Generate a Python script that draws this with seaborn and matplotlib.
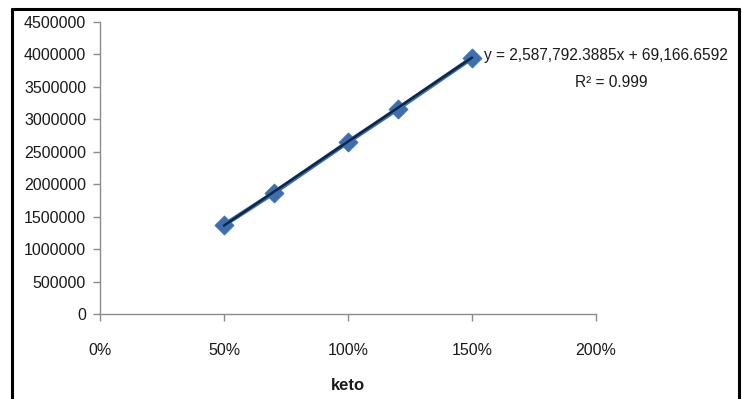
import numpy as np
import pandas as pd
import matplotlib
matplotlib.use("Agg")
import matplotlib.pyplot as plt
from matplotlib.ticker import FuncFormatter
from matplotlib.lines import Line2D
import seaborn as sns

# Calibration points: concentration (fraction) vs. peak area
keto = [0.5, 0.7, 1.0, 1.2, 1.5]
area = [1371000, 1864000, 2650000, 3159000, 3945000]

# Linear trendline as reported
slope = 2587792.3885
intercept = 69166.6592
r_squared = 0.999

x_ticks = [0, 0.5, 1.0, 1.5, 2.0]
y_ticks = list(range(0, 4500001, 500000))

sns.set_theme(style="white")
plt.rcParams["font.family"] = ["Liberation Sans Narrow", "Liberation Sans", "DejaVu Sans"]

fig = plt.figure(figsize=(7.43, 3.99), dpi=100)
ax = fig.add_axes([0.1346, 0.213, 0.6676, 0.732])

df = pd.DataFrame({"keto": keto, "area": area})
fit_x = np.array([keto[0], keto[-1]])
fit_df = pd.DataFrame({"keto": fit_x, "area": slope * fit_x + intercept})

sns.lineplot(data=df, x="keto", y="area", ax=ax, color="#3b6fb0", linewidth=3.2, zorder=2)
sns.scatterplot(data=df, x="keto", y="area", ax=ax, marker="D", s=95,
                color="#3b6fb0", edgecolor="#3b6fb0", linewidth=0.5, zorder=3)
sns.lineplot(data=fit_df, x="keto", y="area", ax=ax, color="#0f2645", linewidth=1.8, zorder=4)

ax.set_xlim(0, 2.0)
ax.set_ylim(0, 4500000)
ax.set_xticks(x_ticks)
ax.set_yticks(y_ticks)
ax.xaxis.set_major_formatter(FuncFormatter(lambda v, p: f"{v*100:.0f}%"))
ax.yaxis.set_major_formatter(FuncFormatter(lambda v, p: f"{int(v)}"))

for side in ("top", "right"):
    ax.spines[side].set_visible(False)
for side in ("left", "bottom"):
    ax.spines[side].set_color("#8c8c8c")
    ax.spines[side].set_linewidth(1.0)

ax.tick_params(axis="both", which="major", direction="out", length=5, width=1,
               color="#8c8c8c", labelsize=11.5, labelcolor="#1a1a1a")
ax.tick_params(axis="x", pad=16)
ax.tick_params(axis="y", pad=5)
ax.xaxis.set_ticks_position("bottom")
ax.yaxis.set_ticks_position("left")

ax.set_xlabel("keto", fontsize=12, fontweight="bold", color="#1a1a1a", labelpad=14)
ax.set_ylabel("")

fig.text(0.651, 0.862, f"y = {slope:,.4f}x + {intercept:,.4f}",
         fontsize=11.2, color="#1a1a1a", ha="left", va="center")
fig.text(0.823, 0.794, f"R\u00b2 = {r_squared}",
         fontsize=11.2, color="#1a1a1a", ha="center", va="center")

# Frame around the chart area
for xs, ys in (([0.0155, 0.0155], [-0.1, 0.978]),
               ([0.0155, 0.9946], [0.978, 0.978]),
               ([0.9946, 0.9946], [-0.1, 0.978])):
    fig.add_artist(Line2D(xs, ys, transform=fig.transFigure, color="black", linewidth=2.2))

fig.savefig("out.png", dpi=100)
